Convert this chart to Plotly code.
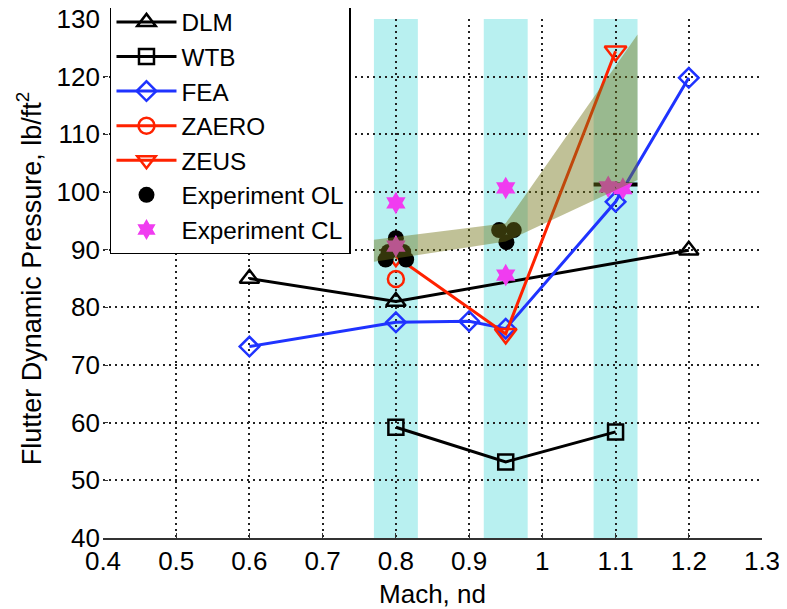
import plotly.graph_objects as go

# ---- data ----
mach_dlm = [0.6, 0.8, 1.2]
q_dlm = [85.0, 81.0, 89.9]

mach_wtb = [0.8, 0.95, 1.1]
q_wtb = [59.2, 53.2, 58.4]

mach_fea = [0.6, 0.8, 0.9, 0.95, 1.1, 1.2]
q_fea = [73.2, 77.4, 77.6, 76.3, 98.3, 119.8]

mach_zaero = [0.8]
q_zaero = [84.9]

mach_zeus = [0.8, 0.95, 1.1]
q_zeus = [88.8, 75.4, 124.4]

mach_ol = [0.8, 0.8, 0.79, 0.81, 0.786, 0.814, 0.941, 0.961, 0.951]
q_ol = [92.0, 90.3, 89.6, 89.6, 88.3, 88.3, 93.4, 93.4, 91.3]

mach_ol_range = [1.07, 1.13]
q_ol_range = [101.3, 101.3]

mach_cl = [0.8, 0.8, 0.95, 0.95, 1.09, 1.11]
q_cl = [98.1, 90.6, 100.7, 85.6, 100.9, 100.6]

env_mach = [0.77, 0.95, 1.13]
env_upper = [91.7, 94.6, 127.3]
env_lower = [87.9, 91.4, 102.1]

band_lo = [0.77, 0.92, 1.07]
band_hi = [0.83, 0.98, 1.13]

x_ticks = [0.4, 0.5, 0.6, 0.7, 0.8, 0.9, 1.0, 1.1, 1.2, 1.3]
x_ticklabels = ["0.4", "0.5", "0.6", "0.7", "0.8", "0.9", "1", "1.1", "1.2", "1.3"]
y_ticks = [40, 50, 60, 70, 80, 90, 100, 110, 120, 130]

# ---- styles ----
BLACK = "#000000"
BLUE = "#1f33ff"
RED = "#ff2200"
MAGENTA = "#f03cf0"
FONT = "Liberation Sans"
FS = 26

fig = go.Figure()

def line_trace(x, y, name, color, symbol, size):
    return go.Scatter(
        x=x, y=y, name=name, mode="lines+markers",
        line=dict(color=color, width=3),
        marker=dict(symbol=symbol, size=size, color=color,
                    line=dict(color=color, width=2.5)),
    )

fig.add_trace(line_trace(mach_dlm, q_dlm, "DLM", BLACK, "triangle-up-open", 17))
fig.add_trace(line_trace(mach_wtb, q_wtb, "WTB", BLACK, "square-open", 15))
fig.add_trace(line_trace(mach_fea, q_fea, "FEA", BLUE, "diamond-open", 15))
fig.add_trace(line_trace(mach_zaero, q_zaero, "ZAERO", RED, "circle-open", 16))
fig.add_trace(line_trace(mach_zeus, q_zeus, "ZEUS", RED, "triangle-down-open", 19))

fig.add_trace(go.Scatter(
    x=mach_ol, y=q_ol, name="Experiment OL", mode="markers",
    marker=dict(symbol="circle", size=16, color=BLACK),
))
fig.add_trace(go.Scatter(
    x=mach_ol_range, y=q_ol_range, mode="lines", showlegend=False,
    line=dict(color=BLACK, width=4), hoverinfo="skip",
))
fig.add_trace(go.Scatter(
    x=mach_cl, y=q_cl, name="Experiment CL", mode="markers",
    marker=dict(symbol="hexagram", size=17, color=MAGENTA, line=dict(width=0)),
))
# experimental envelope drawn on top (semi-transparent)
fig.add_trace(go.Scatter(
    x=env_mach + env_mach[::-1], y=env_upper + env_lower[::-1],
    mode="lines", fill="toself", fillcolor="rgba(115,118,25,0.45)",
    line=dict(width=0), showlegend=False, hoverinfo="skip",
))

for lo, hi in zip(band_lo, band_hi):
    fig.add_shape(type="rect", xref="x", yref="paper", x0=lo, x1=hi, y0=0, y1=1,
                  fillcolor="#b8f0f0", line=dict(width=0), layer="below")

grid_style = dict(showgrid=True, gridcolor="#222222", gridwidth=1.5, griddash="2px,4px")

# page body adds an 8px margin, so the figure is 779x601 inside the 787x609 window
fig.update_layout(
    width=779, height=601,
    margin=dict(l=95, r=25, t=11, b=71, autoexpand=False),
    paper_bgcolor="white", plot_bgcolor="white",
    font=dict(family=FONT, size=FS, color="black"),
    showlegend=True,
    legend=dict(
        x=0.0106, xanchor="left", y=0.547, yanchor="bottom",
        bgcolor="white", bordercolor="black", borderwidth=1.5,
        font=dict(family=FONT, size=24.3, color="black"),
        itemwidth=60, tracegroupgap=0,
    ),
    xaxis=dict(
        range=[0.4, 1.3], tickvals=x_ticks, ticktext=x_ticklabels,
        showline=True, linecolor="#333333", linewidth=1.5,
        ticks="inside", ticklen=5, tickcolor="#333333",
        ticklabelstandoff=-1, ticklabeloverflow="allow",
        zeroline=False,
        title=dict(text="Mach, nd", font=dict(size=FS), standoff=14),
        **grid_style,
    ),
    yaxis=dict(
        range=[40, 130], tickvals=y_ticks,
        showline=False, ticks="inside", ticklen=5, tickcolor="#333333",
        ticklabelstandoff=2, ticklabeloverflow="allow",
        zeroline=False,
        title=dict(text="Flutter Dynamic Pressure, lb/ft<sup>2</sup>", font=dict(size=27), standoff=7),
        **grid_style,
    ),
)

fig.write_html("out.html")
